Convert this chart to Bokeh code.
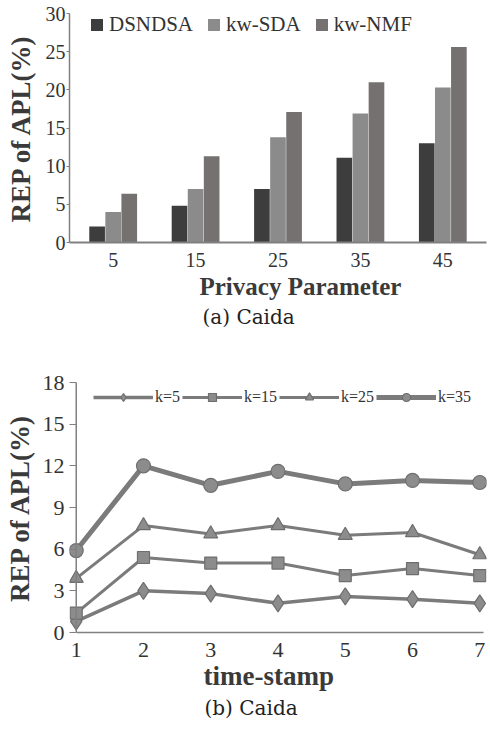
from bokeh.plotting import figure
from bokeh.models import (ColumnDataSource, FactorRange, FixedTicker, Legend,
                          LegendItem, Title, Range1d, Span)
from bokeh.transform import dodge
from bokeh.layouts import column
from bokeh.embed import file_html
from bokeh.resources import INLINE

# ---------------- data ----------------
privacy = ["5", "15", "25", "35", "45"]
dsndsa = [2.1, 4.8, 7.0, 11.1, 13.0]
kw_sda = [4.0, 7.0, 13.8, 16.9, 20.3]
kw_nmf = [6.4, 11.3, 17.1, 21.0, 25.6]
y1_ticks = [0, 5, 10, 15, 20, 25, 30]

timestamps = [1, 2, 3, 4, 5, 6, 7]
k5 = [0.8, 3.0, 2.8, 2.1, 2.6, 2.4, 2.1]
k15 = [1.4, 5.4, 5.0, 5.0, 4.1, 4.6, 4.1]
k25 = [3.9, 7.7, 7.1, 7.7, 7.0, 7.2, 5.6]
k35 = [5.9, 12.0, 10.6, 11.6, 10.7, 10.95, 10.8]
y2_ticks = [0, 3, 6, 9, 12, 15, 18]

SERIF = "Liberation Serif"
CAP = "DejaVu Serif"
AX = "#808080"
TXT = "#333333"

# ---------------- figure (a) ----------------
src1 = ColumnDataSource(dict(cat=privacy, dsndsa=dsndsa, kw_sda=kw_sda, kw_nmf=kw_nmf))
p1 = figure(width=490, height=330,
            x_range=FactorRange(*privacy, range_padding=0.03, range_padding_units="absolute"),
            y_range=Range1d(0, 30), output_backend="svg", toolbar_location=None,
            min_border_left=69, min_border_right=0, min_border_top=13, min_border_bottom=86)
p1.outline_line_color = None
p1.grid.visible = False
bw = 0.19
r_a = p1.vbar(x=dodge("cat", -0.195, range=p1.x_range), top="dsndsa", width=bw, source=src1,
              fill_color="#3d3d3d", line_color=None)
r_b = p1.vbar(x=dodge("cat", 0.0, range=p1.x_range), top="kw_sda", width=bw, source=src1,
              fill_color="#8b8b8b", line_color=None)
r_c = p1.vbar(x=dodge("cat", 0.195, range=p1.x_range), top="kw_nmf", width=bw, source=src1,
              fill_color="#767171", line_color=None)

p1.yaxis.ticker = FixedTicker(ticks=y1_ticks)
for ax in (p1.xaxis, p1.yaxis):
    ax.axis_line_color = AX
    ax.axis_line_width = 1.5
    ax.major_tick_line_color = AX
    ax.minor_tick_line_color = None
    ax.major_label_text_font = SERIF
    ax.major_label_text_font_size = "20px"
    ax.major_label_text_color = TXT
p1.xaxis.axis_line_width = 2
p1.xaxis.major_tick_line_color = None
p1.xaxis.major_label_standoff = 4
p1.yaxis.major_tick_in = 0
p1.yaxis.major_tick_out = 3
p1.yaxis.major_label_standoff = 1
p1.yaxis.axis_label = "REP of APL(%)"
p1.yaxis.axis_label_text_font = SERIF
p1.yaxis.axis_label_text_font_size = "27px"
p1.yaxis.axis_label_text_font_style = "bold"
p1.yaxis.axis_label_text_color = "#3a3a3a"
p1.yaxis.axis_label_standoff = 7

p1.add_layout(Title(text="Privacy Parameter", align="left", offset=130, standoff=6,
                    vertical_align="top",
                    text_font=SERIF, text_font_size="25px", text_font_style="bold",
                    text_color="#3a3a3a"), "below")
p1.add_layout(Title(text="(a) Caida", align="left", offset=133, standoff=0,
                    vertical_align="top",
                    text_font=CAP, text_font_size="20px", text_font_style="normal",
                    text_color="#222222"), "below")

leg1 = Legend(items=[LegendItem(label="DSNDSA", renderers=[r_a]),
                     LegendItem(label="kw-SDA", renderers=[r_b]),
                     LegendItem(label="kw-NMF", renderers=[r_c])],
              orientation="horizontal", location=(20, 205),
              glyph_width=15, glyph_height=15, label_standoff=5, spacing=13,
              padding=0, margin=0, border_line_color=None, background_fill_alpha=0,
              label_text_font=SERIF, label_text_font_size="21px", label_text_color=TXT)
p1.add_layout(leg1)

# ---------------- figure (b) ----------------
p2 = figure(width=490, height=401, x_range=Range1d(0.9, 7.1), y_range=Range1d(0, 18),
            output_backend="svg", toolbar_location=None,
            min_border_left=67, min_border_right=4, min_border_top=52, min_border_bottom=99)
p2.outline_line_color = None
p2.grid.visible = False
LC = "#7b7b7b"
MF = "#8c8c8c"
series = [("k=5", k5, "diamond", 17, 3.5),
          ("k=15", k15, "square", 12, 3),
          ("k=25", k25, "triangle", 14, 3),
          ("k=35", k35, "circle", 14, 5)]
items = []
for label, vals, mk, sz, lw in series:
    lr = p2.line(timestamps, vals, line_color=LC, line_width=lw)
    sr = p2.scatter(timestamps, vals, marker=mk, size=sz, fill_color=MF,
                    line_color="#6e6e6e", line_width=1.2)
    items.append(LegendItem(label=label, renderers=[lr, sr]))

# y-axis line drawn at x = 1 (the first time-stamp)
p2.add_layout(Span(location=1, dimension="height", line_color=AX, line_width=1.5))

p2.xaxis.ticker = FixedTicker(ticks=timestamps)
p2.yaxis.ticker = FixedTicker(ticks=y2_ticks)
for ax in (p2.xaxis, p2.yaxis):
    ax.axis_line_color = AX
    ax.axis_line_width = 1.5
    ax.major_tick_line_color = AX
    ax.minor_tick_line_color = None
    ax.major_label_text_font = SERIF
    ax.major_label_text_font_size = "22px"
    ax.major_label_text_color = TXT
p2.xaxis.bounds = (1, 7.05)
p2.xaxis.major_tick_line_color = None
p2.xaxis.major_label_standoff = 4
p2.yaxis.axis_line_color = None
p2.yaxis.major_tick_in = 7
p2.yaxis.major_tick_out = 0
p2.yaxis.major_label_standoff = 5
p2.yaxis.axis_label = "REP of APL(%)"
p2.yaxis.axis_label_text_font = SERIF
p2.yaxis.axis_label_text_font_size = "27px"
p2.yaxis.axis_label_text_font_style = "bold"
p2.yaxis.axis_label_text_color = "#3a3a3a"
p2.yaxis.axis_label_standoff = 5

p2.add_layout(Title(text="time-stamp", align="left", offset=134, standoff=3,
                    vertical_align="top",
                    text_font=SERIF, text_font_size="27px", text_font_style="bold",
                    text_color="#3a3a3a"), "below")
p2.add_layout(Title(text="(b) Caida", align="left", offset=135, standoff=3,
                    vertical_align="top",
                    text_font=CAP, text_font_size="20px", text_font_style="normal",
                    text_color="#222222"), "below")

leg2 = Legend(items=items, orientation="horizontal", location=(24, 225),
              glyph_width=60, glyph_height=20, label_standoff=2, spacing=2,
              padding=0, margin=0, border_line_color=None, background_fill_alpha=0,
              label_text_font=SERIF, label_text_font_size="16px", label_text_color=TXT)
p2.add_layout(leg2)

layout = column(p1, p2, spacing=0)
open("out.html", "w").write(file_html(layout, INLINE))
